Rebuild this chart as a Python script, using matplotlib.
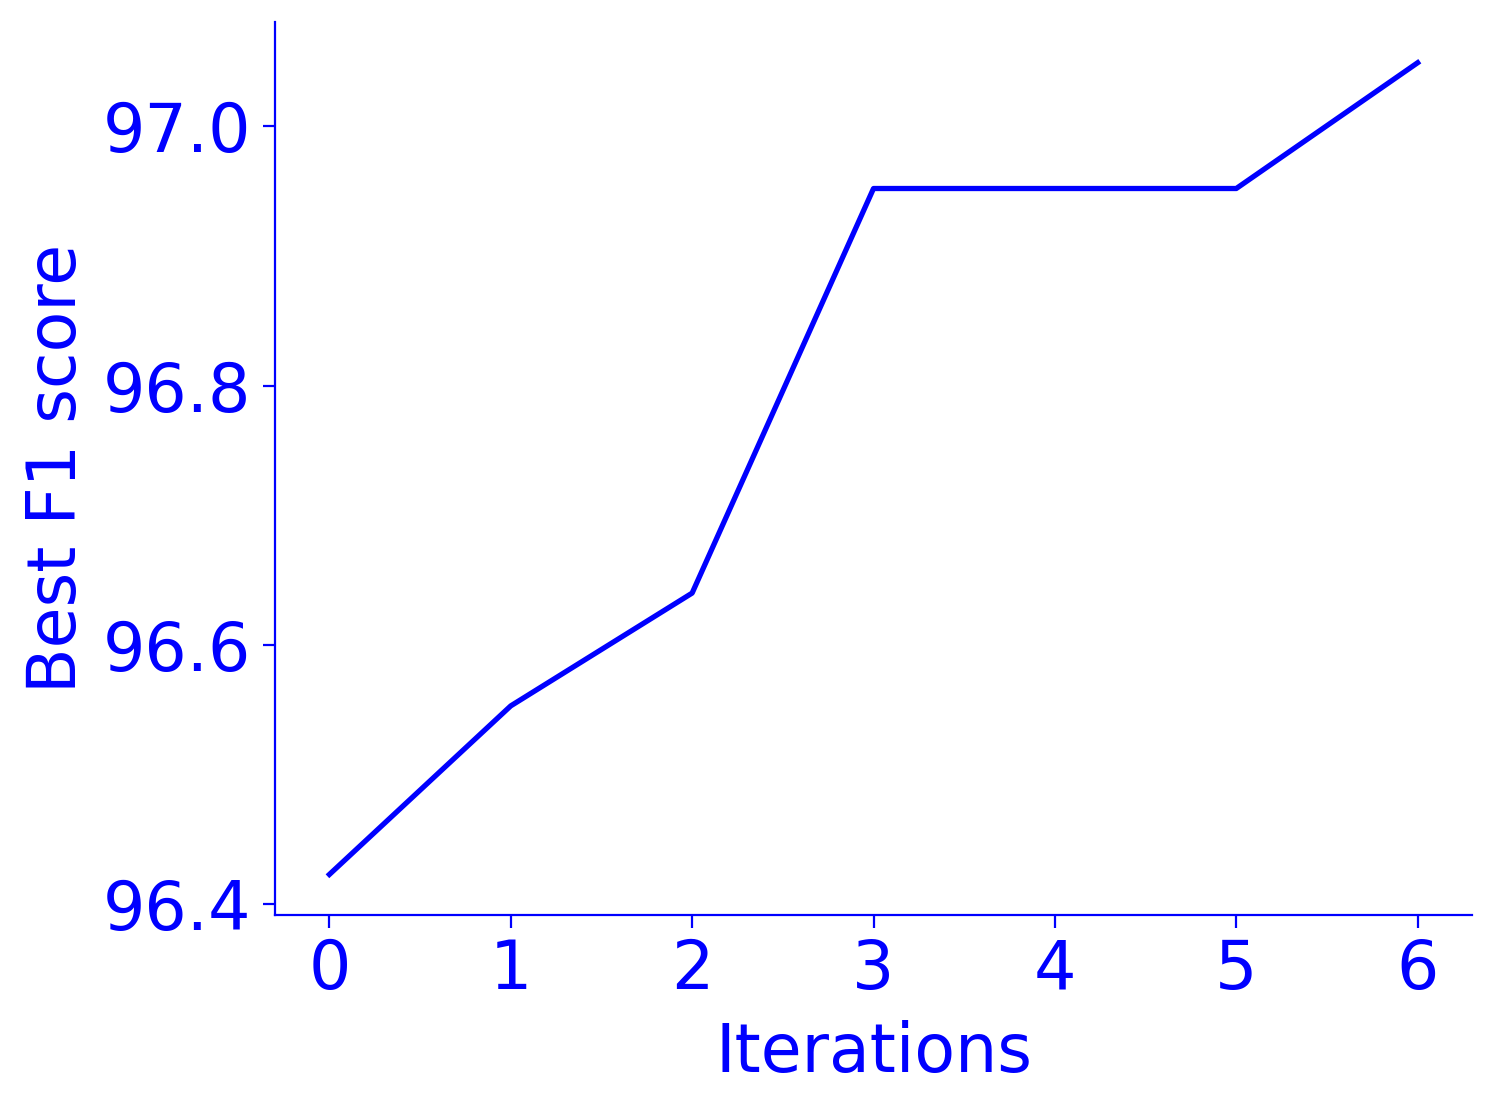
import matplotlib
matplotlib.use("Agg")
import matplotlib.pyplot as plt

iterations = [0, 1, 2, 3, 4, 5, 6]
best_f1 = [96.423, 96.553, 96.64, 96.952, 96.952, 96.952, 97.049]
yticks = [96.4, 96.6, 96.8, 97.0]

color = "blue"
fig = plt.figure(figsize=(7.48, 5.535), dpi=200)
ax = fig.add_axes([0.1838, 0.1734, 0.984 - 0.1838, 0.980 - 0.1734])
ax.plot(iterations, best_f1, color=color, linewidth=1.9)
ax.set_xticks(iterations)
ax.set_yticks(yticks)
ax.set_yticklabels([f"{v:.1f}" for v in yticks])
ax.set_xlabel("Iterations", fontsize=24, color=color, labelpad=6)
ax.set_ylabel("Best F1 score", fontsize=24, color=color, labelpad=4.5)
ax.tick_params(axis="both", colors=color, labelsize=24, length=4.5)
ax.tick_params(axis="y", pad=4)
for s in ["top", "right"]:
    ax.spines[s].set_visible(False)
for s in ["left", "bottom"]:
    ax.spines[s].set_color(color)
fig.savefig("out.png", dpi=200)
